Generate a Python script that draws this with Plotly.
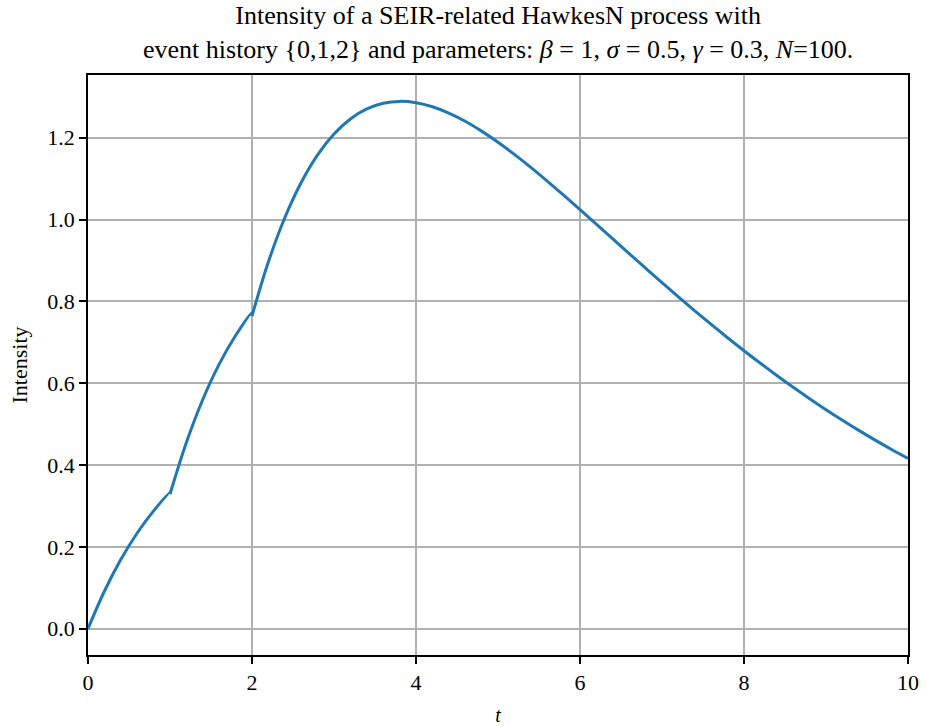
import plotly.graph_objects as go

# time points (duplicated at event times 1 and 2 for the small factor step)
t = [0.0, 0.2, 0.4, 0.6, 0.8, 1.0, 1.0, 1.2, 1.4, 1.6, 1.8, 2.0, 2.0,
     2.2, 2.4, 2.6, 2.8, 3.0, 3.2, 3.4, 3.6, 3.8, 4.0, 4.2, 4.4, 4.6, 4.8,
     5.0, 5.2, 5.4, 5.6, 5.8, 6.0, 6.2, 6.4, 6.6, 6.8, 7.0, 7.2, 7.4, 7.6,
     7.8, 8.0, 8.2, 8.4, 8.6, 8.8, 9.0, 9.2, 9.4, 9.6, 9.8, 10.0]
intensity = [0.0, 0.0914, 0.1688, 0.2338, 0.2879, 0.3324, 0.3290, 0.4552,
             0.5602, 0.6466, 0.7166, 0.7723, 0.7644, 0.8967, 1.0045, 1.0907,
             1.1582, 1.2093, 1.2461, 1.2705, 1.2843, 1.2890, 1.2858, 1.2760,
             1.2605, 1.2404, 1.2163, 1.1891, 1.1593, 1.1275, 1.0941, 1.0596,
             1.0244, 0.9886, 0.9527, 0.9168, 0.8812, 0.8459, 0.8111, 0.7770,
             0.7437, 0.7111, 0.6794, 0.6487, 0.6188, 0.5900, 0.5622, 0.5353,
             0.5095, 0.4847, 0.4608, 0.4379, 0.4160]

# indices where the curve has kinks (events at t=1 and t=2)
segment_breaks = [0, 6, 12, len(t) - 1]

x_ticks = [0, 2, 4, 6, 8, 10]
y_ticks = [0.0, 0.2, 0.4, 0.6, 0.8, 1.0, 1.2]
y_tick_text = ["0.0", "0.2", "0.4", "0.6", "0.8", "1.0", "1.2"]

title_text = ("Intensity of a SEIR-related HawkesN process with<br>"
              "event history {0,1,2} and parameters: <i>β</i> = 1, <i>σ</i> = 0.5, "
              "<i>γ</i> = 0.3, <i>N</i>=100.")

font_family = "Liberation Serif, DejaVu Serif, serif"

fig = go.Figure()
for a, b in zip(segment_breaks[:-1], segment_breaks[1:]):
    fig.add_trace(go.Scatter(x=t[a:b + 1], y=intensity[a:b + 1], mode="lines",
                             line=dict(color="#1f77b4", width=3,
                                       shape="spline", smoothing=1.0),
                             showlegend=False, hoverinfo="skip"))

axis_common = dict(showline=True, linecolor="black", linewidth=1.5, mirror=True,
                   ticks="outside", ticklen=7, tickwidth=1.5, tickcolor="black",
                   showgrid=True, gridcolor="#b0b0b0", gridwidth=1.5,
                   zeroline=False, automargin=False,
                   tickfont=dict(size=22, color="black"))

fig.update_layout(
    width=926, height=726,
    margin=dict(l=88, r=18, t=75, b=71),
    paper_bgcolor="white", plot_bgcolor="white",
    font=dict(family=font_family, color="black"),
    annotations=[dict(text=title_text, xref="paper", yref="paper", x=0.5, y=1,
                      xanchor="center", yanchor="bottom", yshift=9,
                      showarrow=False, align="center",
                      font=dict(size=26, color="black"))],
    xaxis=dict(range=[0, 10], tickvals=x_ticks,
               title=dict(text="<i>t</i>", font=dict(size=20), standoff=20),
               **axis_common),
    yaxis=dict(range=[-0.0645, 1.3535], tickvals=y_ticks, ticktext=y_tick_text,
               title=dict(text="Intensity", font=dict(size=22), standoff=14),
               **axis_common),
)

fig.write_html("out.html")
